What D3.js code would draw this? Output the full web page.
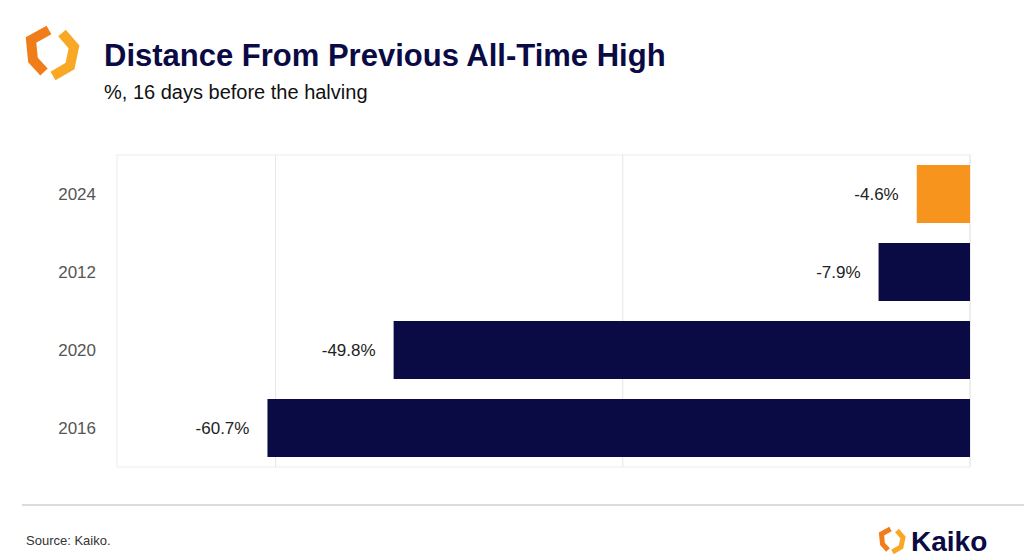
<!DOCTYPE html>
<html><head><meta charset="utf-8">
<script src="https://cdn.jsdelivr.net/npm/d3@7"></script>
<style>body{margin:0;background:#fff;font-family:"Liberation Sans",Arial,sans-serif}</style>
</head><body><svg id="c" width="1024" height="558"></svg>
<script>
const categories=["2024","2012","2020","2016"];
const values=[-4.6,-7.9,-49.8,-60.7];
const labels=["-4.6%","-7.9%","-49.8%","-60.7%"];
const colors=["#f7941d","#0a0a45","#0a0a45","#0a0a45"];
const gridTicks=[-60,-30,0];

const svg=d3.select("#c");
const L=117,R=970,T=155,B=467;
const x=d3.scaleLinear().domain([-73.7,0]).range([L,R]);
const y=d3.scaleBand().domain(categories).range([T,B]).paddingInner(20/78).paddingOuter(10/78);

svg.append("rect").attr("x",L).attr("y",T).attr("width",R-L).attr("height",B-T).attr("fill","none").attr("stroke","#ececec");
svg.selectAll(".g").data(gridTicks).enter().append("line").attr("x1",d=>x(d)).attr("x2",d=>x(d)).attr("y1",T).attr("y2",B).attr("stroke","#e6e6e6");

svg.selectAll(".b").data(values).enter().append("rect")
 .attr("x",d=>x(d)).attr("width",d=>x(0)-x(d))
 .attr("y",(d,i)=>y(categories[i])).attr("height",y.bandwidth())
 .attr("fill",(d,i)=>colors[i]);
svg.selectAll(".l").data(values).enter().append("text")
 .attr("x",d=>x(d)-18).attr("y",(d,i)=>y(categories[i])+y.bandwidth()/2+6)
 .attr("text-anchor","end").attr("font-size",17).attr("fill","#222").text((d,i)=>labels[i]);
svg.selectAll(".c").data(categories).enter().append("text")
 .attr("x",96).attr("y",d=>y(d)+y.bandwidth()/2+6).attr("text-anchor","end")
 .attr("font-size",17).attr("fill","#555").text(d=>d);

svg.append("text").attr("x",104).attr("y",66).attr("font-size",31).attr("font-weight","bold").attr("fill","#0a0a45").text("Distance From Previous All-Time High");
svg.append("text").attr("x",104).attr("y",99).attr("font-size",20).attr("fill","#111").text("%, 16 days before the halving");
svg.append("line").attr("x1",22).attr("x2",1024).attr("y1",505).attr("y2",505).attr("stroke","#cfcfcf").attr("stroke-width",1.5);
svg.append("text").attr("x",26).attr("y",545).attr("font-size",13).attr("fill","#333").text("Source: Kaiko.");

function logo(ox,oy,s,w){
 const g=svg.append("g").attr("transform",`translate(${ox},${oy}) scale(${s})`);
 g.append("path").attr("d","M49,30 L31,40 L33,60 L44,72").attr("fill","none").attr("stroke","#f07d1a").attr("stroke-width",w).attr("stroke-linejoin","miter");
 g.append("path").attr("d","M62,33 L74,47 L70,66 L53,76").attr("fill","none").attr("stroke","#f8a825").attr("stroke-width",w).attr("stroke-linejoin","miter");
}
logo(0,0,1,10);
logo(866,514,0.5,10);
svg.append("text").attr("x",911).attr("y",551).attr("font-size",28).attr("font-weight","bold").attr("fill","#0a0a45").text("Kaiko");
</script></body></html>
